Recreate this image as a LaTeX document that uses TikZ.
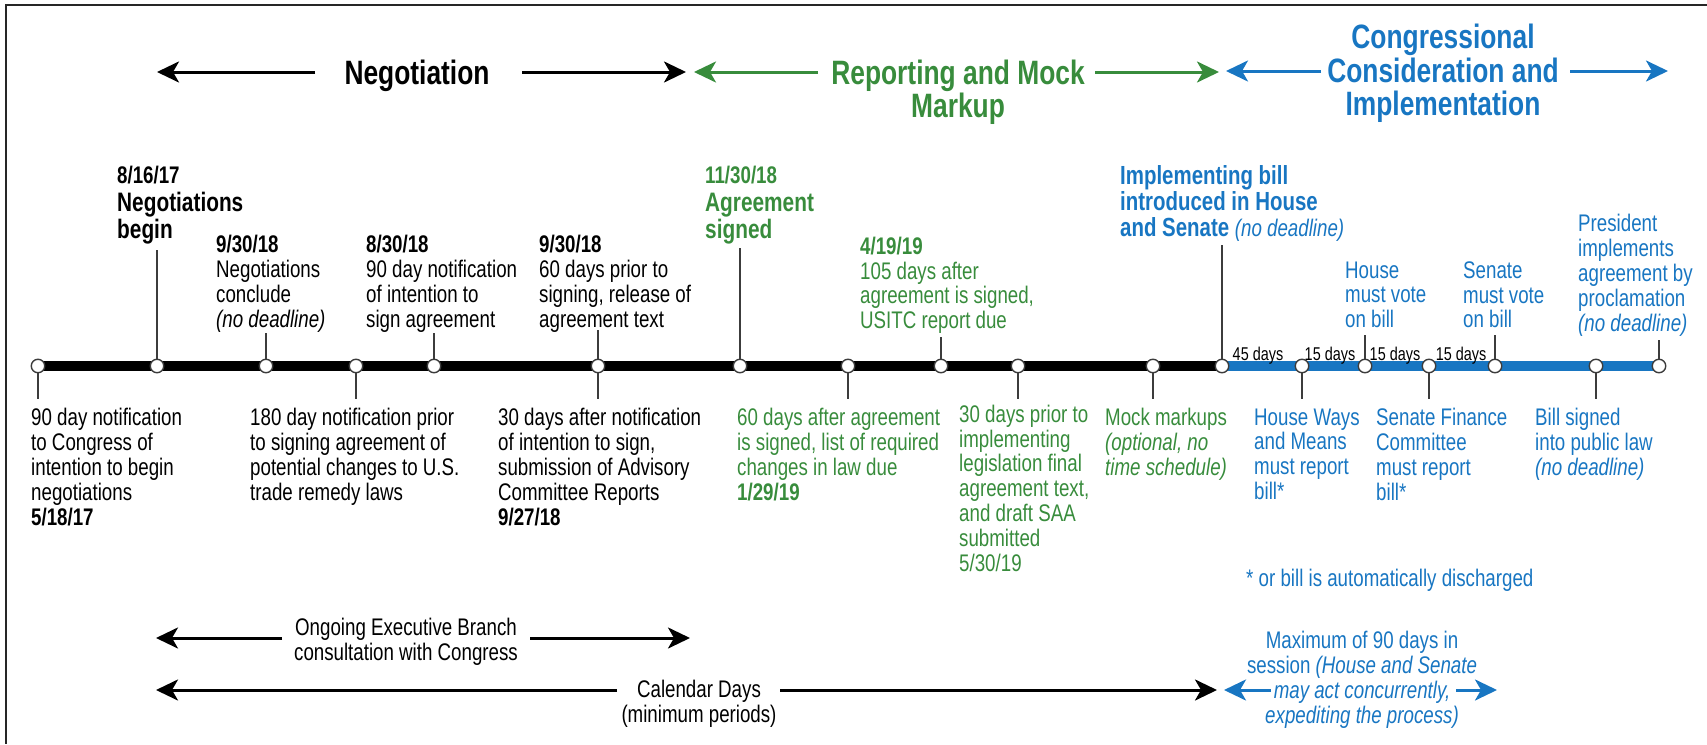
\documentclass[tikz,border=0pt]{standalone}
\usepackage{fontspec}
\setmainfont{Liberation Sans}[FakeStretch=0.78]
\usetikzlibrary{arrows.meta}
\definecolor{cgreen}{RGB}{56,140,60}
\definecolor{cblue}{RGB}{24,118,194}
\definecolor{cgray}{RGB}{60,60,60}
\newcommand\lblsize{\fontsize{24}{24.8}\selectfont}
\newcommand\bigbold{\fontsize{26.7}{27.5}\selectfont\bfseries}
\newcommand\titlefont{\fontsize{33.8}{33.5}\selectfont\bfseries}
\newcommand\daysize{\fontsize{18.5}{19}\selectfont}
\begin{document}
\begin{tikzpicture}[x=1pt,y=-1pt,
  lbl/.style={font=\lblsize, align=left, inner sep=0pt, anchor=north west},
  ctr/.style={font=\lblsize, align=center, inner sep=0pt, anchor=north},
  ttl/.style={font=\titlefont, align=center, inner sep=0pt},
  tickline/.style={draw=cgray, line width=1.3pt},
  evt/.style={circle, draw=cgray, fill=white, line width=1.4pt, minimum size=13.5pt, inner sep=0pt},
  bigarrow/.style={line width=3pt, -{Stealth[length=22pt,width=21pt,inset=6pt]}},
  daylbl/.style={font=\daysize, inner sep=0pt, anchor=base},
  frameline/.style={draw=black!85, line width=2pt},
]
\useasboundingbox (0,0) rectangle (1707,744);
\draw[frameline] (1707,4.5) -- (5.5,4.5) -- (5.5,744);

% ---------- titles ----------
\node[ttl, anchor=base] (negt) at (417,84) {Negotiation};
\coordinate (negL1) at (315,72); \coordinate (negL2) at (157,72);
\coordinate (negR1) at (522,72); \coordinate (negR2) at (686,72);
\draw[bigarrow] (negL1) -- (negL2);
\draw[bigarrow] (negR1) -- (negR2);

\node[ttl, anchor=north, text=cgreen] (rept) at (958,59.5) {Reporting and Mock\\Markup};
\coordinate (repL1) at (818,72); \coordinate (repL2) at (694,72);
\coordinate (repR1) at (1095,72); \coordinate (repR2) at (1219,72);
\draw[bigarrow, cgreen] (repL1) -- (repL2);
\draw[bigarrow, cgreen] (repR1) -- (repR2);

\node[ttl, anchor=north, text=cblue] (cont) at (1443,24) {Congressional\\Consideration and\\Implementation};
\coordinate (conL1) at (1321,71); \coordinate (conL2) at (1226,71);
\coordinate (conR1) at (1570,71); \coordinate (conR2) at (1668,71);
\draw[bigarrow, cblue] (conL1) -- (conL2);
\draw[bigarrow, cblue] (conR1) -- (conR2);

% ---------- timeline ----------
\foreach \i/\x in {1/38,2/157,3/266,4/356,5/434,6/598,7/740,8/848,9/941,10/1018,11/1153,12/1222,13/1302,14/1365,15/1429,16/1495,17/1596,18/1659}
  \coordinate (p\i) at (\x,366);
\draw[line width=10pt] (p1) -- (p12);
\draw[cblue, line width=10pt] (p12) -- (p18);
\foreach \i in {1,...,18} \node[evt] (e\i) at (p\i) {};

\foreach \i/\x/\t in {2/157/250,3/266/333,5/434/333,6/598/330,7/740/248,9/941/337,12/1222/245,14/1365/335,16/1495/335,18/1659/340}
  {\coordinate (u\i) at (\x,\t); \draw[tickline] (e\i.north) -- (u\i);}
\foreach \i/\x in {1/38,4/356,6/598,8/848,10/1018,11/1153,13/1302,15/1429,17/1596}
  {\coordinate (d\i) at (\x,399); \draw[tickline] (e\i.south) -- (d\i);}

\node[daylbl] (day1) at (1258,360) {45 days};
\node[daylbl] (day2) at (1330,360) {15 days};
\node[daylbl] (day3) at (1395,360) {15 days};
\node[daylbl] (day4) at (1461,360) {15 days};

% ---------- labels above ----------
\node[lbl, font=\bigbold] (negbeg) at (117,166.3) {{\lblsize 8/16/17}\\Negotiations\\begin};
\node[lbl] (conclude) at (216,235.3) {\textbf{9/30/18}\\Negotiations\\conclude\\\textit{(no deadline)}};
\node[lbl] (notif90) at (366,235.3) {\textbf{8/30/18}\\90 day notification\\of intention to\\sign agreement};
\node[lbl] (release) at (539,235.3) {\textbf{9/30/18}\\60 days prior to\\signing, release of\\agreement text};
\node[lbl, font=\bigbold, text=cgreen] (signed) at (705,166.3) {{\lblsize 11/30/18}\\Agreement\\signed};
\node[lbl, text=cgreen] (usitc) at (860,236.7) {\textbf{4/19/19}\\105 days after\\agreement is signed,\\USITC report due};
\node[lbl, font={\fontsize{26.2}{25.7}\selectfont\bfseries}, text=cblue] (impl) at (1120,165.7) {Implementing bill\\introduced in House\\and Senate {\mdseries\itshape\lblsize (no deadline)}};
\node[lbl, text=cblue] (housev) at (1345,261.3) {House\\must vote\\on bill};
\node[lbl, text=cblue] (senatev) at (1463,261.3) {Senate\\must vote\\on bill};
\node[lbl, text=cblue] (pres) at (1578,214.3) {President\\implements\\agreement by\\proclamation\\\textit{(no deadline)}};

% ---------- labels below ----------
\node[lbl] (cong) at (31,408.3) {90 day notification\\to Congress of\\intention to begin\\negotiations\\\textbf{5/18/17}};
\node[lbl] (n180) at (250,408.3) {180 day notification prior\\to signing agreement of\\potential changes to U.S.\\trade remedy laws};
\node[lbl] (advis) at (498,408.3) {30 days after notification\\of intention to sign,\\submission of Advisory\\Committee Reports\\\textbf{9/27/18}};
\node[lbl, text=cgreen] (g60) at (737,408.3) {60 days after agreement\\is signed, list of required\\changes in law due\\\textbf{1/29/19}};
\node[lbl, text=cgreen] (g30) at (959,404.7) {30 days prior to\\implementing\\legislation final\\agreement text,\\and draft SAA\\submitted\\5/30/19};
\node[lbl, text=cgreen] (mock) at (1105,408.3) {Mock markups\\\textit{(optional, no}\\\textit{time schedule)}};
\node[lbl, text=cblue] (hwm) at (1254,408.3) {House Ways\\and Means\\must report\\bill*};
\node[lbl, text=cblue] (sfc) at (1376,408.3) {Senate Finance\\Committee\\must report\\bill*};
\node[lbl, text=cblue] (law) at (1535,408.3) {Bill signed\\into public law\\\textit{(no deadline)}};
\node[lbl, anchor=base west, text=cblue] (note) at (1246,586.5) {* or bill is automatically discharged};

% ---------- bottom spans ----------
\node[ctr] (ongo) at (406,618.3) {Ongoing Executive Branch\\consultation with Congress};
\coordinate (ogL1) at (282,638); \coordinate (ogL2) at (156,638);
\coordinate (ogR1) at (530,638); \coordinate (ogR2) at (690,638);
\draw[bigarrow] (ogL1) -- (ogL2);
\draw[bigarrow] (ogR1) -- (ogR2);

\node[ctr] (cal) at (699,680.3) {Calendar Days\\(minimum periods)};
\coordinate (caL1) at (617,690); \coordinate (caL2) at (156,690);
\coordinate (caR1) at (780,690); \coordinate (caR2) at (1217,690);
\draw[bigarrow] (caL1) -- (caL2);
\draw[bigarrow] (caR1) -- (caR2);

\node[ctr, text=cblue] (maxd) at (1362,631.3) {Maximum of 90 days in\\session \textit{(House and Senate}\\\textit{may act concurrently,}\\\textit{expediting the process)}};
\coordinate (mxL1) at (1271,690); \coordinate (mxL2) at (1224,690);
\coordinate (mxR1) at (1456,690); \coordinate (mxR2) at (1497,690);
\draw[bigarrow, cblue] (mxL1) -- (mxL2);
\draw[bigarrow, cblue] (mxR1) -- (mxR2);
\end{tikzpicture}
\end{document}
